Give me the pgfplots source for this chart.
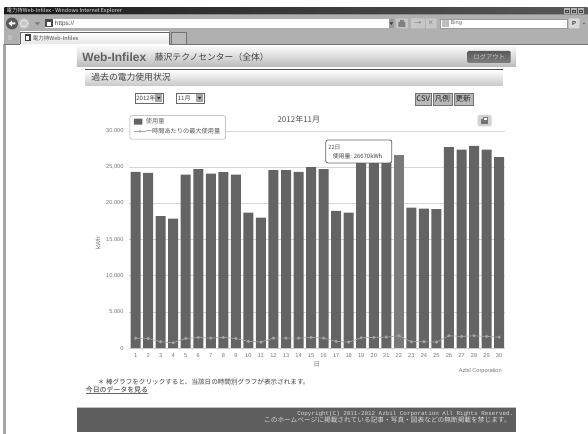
\documentclass[border=0pt]{standalone}
\usepackage{fontspec}
\setmainfont{Liberation Sans}
\newfontfamily\jp{Noto Sans CJK JP}
\newfontfamily\mono{Liberation Mono}
\usepackage{pgfplots}
\pgfplotsset{compat=1.18}
\definecolor{barc}{HTML}{646464}
\definecolor{barhi}{HTML}{7A7A7A}
\definecolor{linec}{HTML}{A4A4A4}
\definecolor{gridc}{HTML}{D6D6D6}
\definecolor{txt}{HTML}{777777}
\definecolor{chrome}{HTML}{B0B0B0}
\begin{document}
\begin{tikzpicture}[x=1pt,y=-1pt,every node/.style={inner sep=0pt,outer sep=0pt}]
% page canvas
\fill[white] (0,0) rectangle (588,434);
% browser window: title bar, address bar, tab strip
\fill[chrome] (4.5,14) rectangle (588,44);
\shade[left color=black!90,right color=black!65] (4.5,8) rectangle (588,14.5);
\fill[black!45] (4.5,14.5) rectangle (588,15.5);
\fill[white] (45,19) rectangle (392,28);
\fill[white] (440,19) rectangle (567,28);
\draw[black!40,line width=.3pt] (440,19) rectangle (567,28);
\shade[top color=white,bottom color=black!10] (20,32) rectangle (169,44);
\draw[black!60,line width=.4pt] (20,44) -- (20,32) -- (169,32) -- (169,44);
\fill[black!27] (171,32) rectangle (186,44);
\draw[black!55,line width=.4pt] (171,44) -- (171,32) -- (186,32) -- (186,44);
\fill[black!35] (3,44) rectangle (6,434);
\draw[black!55,line width=.7pt] (4.5,44.4) -- (20,44.4) (169,44.4) -- (588,44.4);
\node[anchor=west,white!88!black,font=\jp\fontsize{5.4}{5.4}\selectfont] at (6.7,11.2) {電力持Web-Infilex - Windows Internet Explorer};
\foreach \x in {564,571,578}{\fill[black!30] (\x,8.5) rectangle +(6,5.5); \draw[black!75,line width=.4pt] (\x+1.5,10) rectangle +(3,2.5);}
\fill[black!65] (12,23.5) circle (6);
\fill[black!22] (24,23.5) circle (5.5);
\draw[white,line width=.4pt] (24,23.5) circle (3.5);
\fill[white] (8.5,23.5) -- (12,20.5) -- (12,22.5) -- (15.5,22.5) -- (15.5,24.5) -- (12,24.5) -- (12,26.5) -- cycle;
\fill[black!55] (35,22.5) -- (40,22.5) -- (37.5,25) -- cycle;
\fill[black!70] (45,19.5) rectangle (53,27.5);
\fill[white] (47,22) rectangle (51,26);
\node[anchor=west,black!70,font=\fontsize{6.4}{6.4}\selectfont] at (55,23.5) {https://};
\fill[black!40] (389,19) rectangle (394,28);
\fill[black!80] (389.8,22.5) -- (393.2,22.5) -- (391.5,25) -- cycle;
\fill[black!22,rounded corners=1pt] (396,18.5) rectangle (408,28.5);
\fill[black!50] (398.5,22) rectangle (405.5,27) (400,22) -- (404,22) -- (404,20) -- (400,20) -- cycle;
\fill[black!22,rounded corners=1pt] (411,18.5) rectangle (425,28.5);
\node[black!65,font=\bfseries\fontsize{7}{7}\selectfont] at (418,23.2) {$\rightarrow$};
\fill[black!22,rounded corners=1pt] (426,18.5) rectangle (437,28.5);
\node[black!65,font=\bfseries\fontsize{7}{7}\selectfont] at (431,23.2) {$\times$};
\fill[black!25] (442,20) rectangle (449.5,27);
\node[anchor=west,black!60,font=\fontsize{5.6}{5.6}\selectfont] at (451,23.5) {Bing};
\fill[black!15,rounded corners=1pt] (569,18.5) rectangle (580,28.5);
\node[black!75,font=\bfseries\fontsize{6}{6}\selectfont] at (574.5,23.5) {P};
\fill[black!60] (583,23) rectangle (585.5,24);
\fill[black!25] (8,35.5) -- (12.5,35.5) -- (12.5,40.5) -- (8,40.5) -- cycle;
\fill[black!75] (25,34.5) rectangle (31,41.5);
\fill[white] (26.5,36.5) rectangle (29.5,40);
\node[anchor=west,black!70,font=\jp\fontsize{5.5}{5.5}\selectfont] at (33,38) {電力持Web-Infilex};
% page header bands
\shade[top color=black!3,bottom color=black!27] (77,47) rectangle (516.5,67);
\node[anchor=west,black!62,font=\bfseries\fontsize{12}{12}\selectfont] at (82.5,57) {Web-Infilex};
\node[anchor=west,black!75,font=\jp\fontsize{8.8}{8.8}\selectfont] at (155,57) {藤沢テクノセンター（全体）};
\shade[top color=black!65,bottom color=black!50,rounded corners=1pt] (468,51) rectangle (511,63);
\node[white!80!black,font=\jp\fontsize{6.3}{6.3}\selectfont] at (489.5,57) {ログアウト};
\shade[top color=white,bottom color=black!22] (85.5,70) rectangle (503,86);
\draw[black!70,line width=.7pt] (85.5,69.5) -- (503,69.5);
\node[anchor=west,black!75,font=\jp\fontsize{8.8}{8.8}\selectfont] at (91.5,77.5) {過去の電力使用状況};
% month selectors and buttons
\draw[black!60,fill=white,line width=.4pt] (135,93.5) rectangle (163,103);
\fill[black!35] (155.5,94.5) rectangle (162,102);
\fill[black!80] (157,97) -- (160.5,97) -- (158.8,99.5) -- cycle;
\node[anchor=west,black!75,font=\jp\fontsize{6}{6}\selectfont] at (136.5,98.3) {2012年};
\draw[black!60,fill=white,line width=.4pt] (176,93.5) rectangle (204,103);
\fill[black!35] (196.5,94.5) rectangle (203,102);
\fill[black!80] (198,97) -- (201.5,97) -- (199.8,99.5) -- cycle;
\node[anchor=west,black!75,font=\jp\fontsize{6}{6}\selectfont] at (178,98.3) {11月};
\foreach \a/\b/\t in {415.5/431.5/CSV,433.5/452/凡例,454/473/更新}{
  \fill[black!28] (\a,93) rectangle (\b,105.5);
  \draw[black!55,line width=.3pt] (\a,93) rectangle (\b,105.5);
  \node[black!85,font=\jp\fontsize{7.6}{7.6}\selectfont] at ({(\a+\b)/2},99) {\t};
}
% daily consumption and peak demand
\begin{axis}[at={(129.4pt,-348.3pt)},anchor=south west,scale only axis,
  width=376.3pt,height=217.4pt,xmin=0.5,xmax=30.5,ymin=0,ymax=30000,
  axis line style={draw=none},
  ymajorgrids,grid style={gridc,line width=.6pt},
  xtick={1,...,30},ytick={0,5000,10000,15000,20000,25000,30000},
  major tick style={draw=none},
  minor x tick num=1,minor y tick num=0,tick align=outside,
  xminorgrids=false,xtick pos=bottom,ytick pos=left,
  minor tick length=2pt,
  minor tick style={draw=gridc,line width=.4pt},
  ticklabel style={txt,font=\fontsize{5.7}{5.7}\selectfont},
  /pgf/number format/assume math mode=true,
  /pgf/number format/1000 sep={,},
  scaled y ticks=false,
  yticklabel style={xshift=-1.5pt},
  xticklabel style={yshift=-0.8pt},
  clip=false]
\addplot[ybar,bar width=10pt,bar shift=0pt,fill=barc,draw=none] coordinates {
(1,24330)(2,24190)(3,18220)(4,17890)(5,23960)(6,24700)(7,24100)(8,24290)(9,23960)(10,18720)
(11,18030)(12,24560)(13,24560)(14,24330)(15,24980)(16,24700)(17,18950)(18,18720)(19,26200)(20,26300)
(21,26400)(23,19400)(24,19270)(25,19180)(26,27740)(27,27410)(28,27920)(29,27410)(30,26360)};
\addplot[ybar,bar width=10pt,bar shift=0pt,fill=barhi,draw=none] coordinates {(22,26670)};
\addplot[linec,line width=.7pt,mark=*,mark size=1.2pt,mark options={fill=linec,draw=none}] coordinates {
(1,1380)(2,1334)(3,874)(4,736)(5,1334)(6,1472)(7,1380)(8,1472)(9,1334)(10,920)
(11,828)(12,1380)(13,1380)(14,1380)(15,1472)(16,1380)(17,920)(18,828)(19,1426)(20,1472)
(21,1518)(22,1702)(23,874)(24,874)(25,828)(26,1702)(27,1610)(28,1702)(29,1610)(30,1518)};
\end{axis}
% axis captions
\node[txt,rotate=90,font=\fontsize{6.4}{6.4}\selectfont] at (98,243) {kWh};
\node[txt,font=\jp\fontsize{6.4}{6.4}\selectfont] at (317,364) {日};
\node[black!68,font=\jp\fontsize{8}{8}\selectfont] at (299,120) {2012年11月};
\node[anchor=east,txt,font=\fontsize{5.6}{5.6}\selectfont] at (502,371) {Azbil Corporation};
% print button
\fill[black!18,rounded corners=1.5pt] (478,115) rectangle (492,126.5);
\fill[black!55] (481.5,119.5) rectangle (488.5,124);
\fill[white] (483,117) rectangle (487,120);
\draw[black!55,line width=.4pt] (483,117) rectangle (487,120);
% legend
\draw[black!35,fill=white,rounded corners=2pt,line width=.5pt] (130,115.7) rectangle (225.7,139.3);
\fill[barc,rounded corners=.5pt] (134,118.8) rectangle (142.5,124.8);
\node[anchor=west,black!62,font=\jp\fontsize{6.2}{6.2}\selectfont] at (146,121.7) {使用量};
\draw[linec,line width=.7pt] (134,131.5) -- (146,131.5);
\fill[linec] (140,131.5) circle (1.4);
\node[anchor=west,black!68,font=\jp\fontsize{6.2}{6.2}\selectfont] at (146,131.5) {一時間あたりの最大使用量};
% tooltip for the selected day
\draw[black!60,fill=white,rounded corners=2pt,line width=.8pt] (326,140) rectangle (392,163);
\node[anchor=west,black!68,font=\jp\fontsize{5.8}{5.8}\selectfont] at (328.5,147.3) {22日};
\node[anchor=west,black!75,font=\jp\fontsize{5.9}{5.9}\selectfont] at (333,156) {使用量: 26670kWh};
% notes under the chart
\node[anchor=west,black!75,font=\jp\fontsize{6.6}{6.6}\selectfont] at (98,382) {＊ 棒グラフをクリックすると、当該日の時間別グラフが表示されます。};
\node[anchor=west,black!85,font=\jp\fontsize{6.9}{6.9}\selectfont] at (86,389.8) {今日のデータを見る};
\draw[black!60,line width=.3pt] (86,393.6) -- (148.5,393.6);
% footer
\fill[black!63] (77.5,407) rectangle (516.5,432);
\draw[black!25,line width=.5pt] (77.5,407) -- (516.5,407);
\node[anchor=east,white!85!black,font=\mono\fontsize{5.9}{5.9}\selectfont] at (513.5,413.8) {Copyright(C) 2011-2012 Azbil Corporation All Rights Reserved.};
\node[anchor=east,white!85!black,font=\jp\fontsize{6.7}{6.7}\selectfont] at (511,420.3) {このホームページに掲載されている記事・写真・図表などの無断掲載を禁じます。};
\end{tikzpicture}
\end{document}
